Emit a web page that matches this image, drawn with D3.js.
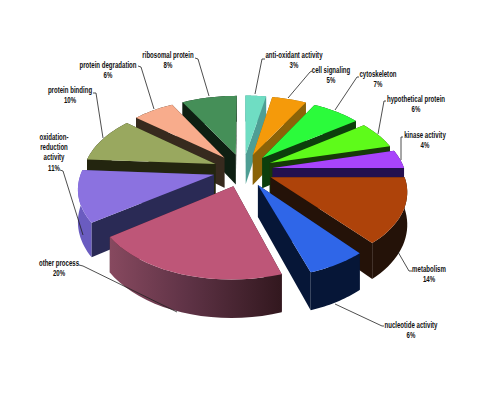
<!DOCTYPE html>
<html lang="en">
<head>
<meta charset="UTF-8">
<script src="https://d3js.org/d3.v7.min.js"></script>
<title>Functional categories</title>
<style>
  html, body { margin: 0; padding: 0; background: #fff; }
  text { font-family: "Liberation Sans", sans-serif; font-weight: bold; font-size: 9.5px; fill: #111; text-anchor: middle; }
</style>
</head>
<body>
<div id="chart"></div>
<script>
const categories = ["anti-oxidant activity", "cell signaling", "cytoskeleton", "hypothetical protein", "kinase activity", "metabolism", "nucleotide activity", "other process", "oxidation-reduction activity", "protein binding", "protein degradation", "ribosomal protein"];
const values = [3, 5, 7, 6, 4, 14, 6, 20, 11, 10, 6, 8];

const topColors = ["#6fddc3", "#f59a0a", "#2bfb3b", "#5efb1a", "#a844fb", "#ae430a", "#2f66e8", "#be5678", "#8b72e0", "#99a85f", "#f8ac8c", "#458f58"];
const wallColors = ["#4e9e94", "#8b6308", "#0c3f0c", "#173a08", "#24104f", "#241208", "#061637", "#3a1c28", "#2a2a55", "#23250f", "#372a1e", "#0e1f12"];

// label lines wrapped by hand, [x, y of first line]
const labelLines = [
  ["anti-oxidant activity", "3%"], ["cell signaling", "5%"], ["cytoskeleton", "7%"],
  ["hypothetical protein", "6%"], ["kinase activity", "4%"], ["metabolism", "14%"],
  ["nucleotide activity", "6%"], ["other process", "20%"], ["oxidation-", "reduction", "activity", "11%"],
  ["protein binding", "10%"], ["protein degradation", "6%"], ["ribosomal protein", "8%"]
];
const labelAt = [[294, 58], [331, 73], [378, 77], [416, 102], [425, 138], [429, 272], [411, 328], [59, 266], [54, 140], [70, 93], [108, 68], [168, 58]];
const leaders = [
  [[255, 94], [262, 59], [265, 59]],
  [[288, 98], [310, 72], [312, 71]],
  [[335, 110], [357, 77], [359, 77]],
  [[378, 134], [384, 101], [386, 101]],
  [[401, 160], [401, 137], [403, 137]],
  [[398, 252], [409, 271], [412, 271]],
  [[335, 304], [382, 326], [384, 326]],
  [[177, 312], [83, 266], [79, 265]],
  [[83, 235], [63, 171], [60, 170]],
  [[103, 138], [96, 93], [93, 93]],
  [[154, 109], [141, 67], [138, 66]],
  [[209, 96], [198, 59], [195, 58]]
];

const width = 490, height = 408;
const cx = 243, cy = 170;
const radius = 132, explode = 30, depth = 31;
const tilt = 0.55, persp = 0.00121;
const narrow = 0.64; // the original font is a condensed one

// ground plane (X right, Y away from viewer) to screen, z is drop below the top face
function project(X, Y, z) {
  const s = 1 / (1 + persp * Y);
  return [cx + X * s, cy - Y * tilt * s + z * s];
}

const svg = d3.select("#chart").append("svg")
  .attr("width", width)
  .attr("height", height);

const defs = svg.append("defs");
const otherRim = defs.append("linearGradient").attr("id", "otherRim")
  .attr("gradientUnits", "userSpaceOnUse")
  .attr("x1", 110).attr("x2", 280).attr("y1", 0).attr("y2", 0);
otherRim.append("stop").attr("offset", 0).attr("stop-color", "#87495f");
otherRim.append("stop").attr("offset", 0.45).attr("stop-color", "#5f3346");
otherRim.append("stop").attr("offset", 1).attr("stop-color", "#33181f");

const rimFill = i => i === 7 ? "url(#otherRim)" : i === 8 ? "#6a5cc0" : wallColors[i];

const pie = d3.pie().sort(null).value(d => d);
const arcs = pie(values);
const line = d3.line();

const slices = arcs.map((a, i) => {
  const mid = (a.startAngle + a.endAngle) / 2;
  const ox = Math.sin(mid) * explode, oy = Math.cos(mid) * explode;
  const steps = d3.range(0, 21).map(k => a.startAngle + (a.endAngle - a.startAngle) * k / 20);
  const rim = steps.map(t => [ox + Math.sin(t) * radius, oy + Math.cos(t) * radius]);
  return { i, ox, oy, rim, midY: oy + Math.cos(mid) * radius * 0.6 };
});

function drop(points) {
  // face between the given ground line at the top and at the bottom of the slab
  return line(points.map(p => project(p[0], p[1], 0))
    .concat(points.slice().reverse().map(p => project(p[0], p[1], depth)))) + "Z";
}

// far slices first
slices.sort((a, b) => d3.descending(a.midY, b.midY));

slices.forEach(s => {
  const apex = [s.ox, s.oy];
  const first = s.rim[0], last = s.rim[s.rim.length - 1];
  const faces = [
    { pts: [apex, first], fill: wallColors[s.i] },
    { pts: [apex, last], fill: wallColors[s.i] },
    { pts: s.rim, fill: rimFill(s.i) }
  ];
  faces.sort((a, b) => d3.descending(d3.mean(a.pts, p => p[1]), d3.mean(b.pts, p => p[1])));
  const g = svg.append("g");
  faces.forEach(f => {
    g.append("path").attr("d", drop(f.pts)).attr("fill", f.fill);
  });
  g.append("path")
    .attr("d", line([apex].concat(s.rim).map(p => project(p[0], p[1], 0))) + "Z")
    .attr("fill", topColors[s.i]);
});

categories.forEach((c, i) => {
  svg.append("path")
    .attr("d", line(leaders[i]))
    .attr("fill", "none")
    .attr("stroke", "#222")
    .attr("stroke-width", 0.8);
  labelLines[i].forEach((l, k) => {
    svg.append("text")
      .attr("transform", `translate(${labelAt[i][0]},${labelAt[i][1] + k * 10.2}) scale(${narrow},1)`)
      .text(l);
  });
});
</script>
</body>
</html>
